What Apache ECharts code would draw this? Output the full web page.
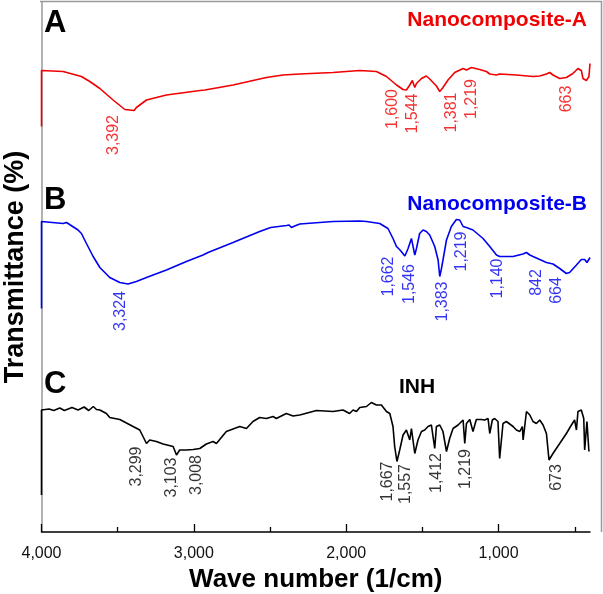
<!DOCTYPE html>
<html>
<head>
<meta charset="utf-8">
<script src="https://cdn.jsdelivr.net/npm/echarts@6/dist/echarts.min.js"></script>
<style>
  html, body { margin: 0; padding: 0; background: #fff; }
  #chart { width: 603px; height: 594px; }
</style>
</head>
<body>
<div id="chart"></div>
<script>
// FTIR spectra: [wave number, transmittance (arbitrary, stacked)]
const spectrumA = [
  [4000, 81.1], [4000, 92.3], [3858, 92.1], [3738, 91.1], [3683, 90.1], [3617, 88.7],
  [3530, 86.4], [3453, 84.5], [3392, 84.3], [3377, 84.9], [3311, 86.4], [3180, 87.4],
  [2960, 88.3], [2927, 88.4], [2743, 89.4], [2524, 90.9], [2415, 91.4], [2305, 91.6],
  [2087, 91.9], [1911, 92.3], [1802, 92.1], [1736, 91.1], [1670, 89.4], [1627, 88.5],
  [1605, 88.4], [1583, 89.4], [1566, 90.3], [1550, 88.9], [1539, 89.7], [1506, 90.7],
  [1474, 91.2], [1452, 90.6], [1408, 89.2], [1386, 88.1], [1365, 88.9], [1332, 90.4],
  [1288, 91.9], [1233, 92.7], [1211, 92.4], [1178, 92.9], [1124, 92.5], [1080, 92.1],
  [1058, 91.6], [1014, 91.4], [993, 91.6], [883, 91.4], [774, 91.1], [730, 91.2],
  [686, 91.6], [664, 91.9], [643, 91.4], [599, 90.7], [555, 90.9], [512, 91.7],
  [479, 92.7], [457, 92.3], [446, 90.7], [424, 90.3], [407, 91.1], [400, 93.7]
];
const spectrumB = [
  [4000, 44.7], [4000, 62.1], [3858, 61.7], [3836, 61.9], [3760, 60.4], [3738, 59.7],
  [3705, 57.7], [3661, 55.1], [3617, 52.9], [3552, 50.9], [3486, 49.9], [3432, 49.6],
  [3377, 50.1], [3311, 50.9], [3180, 52.4], [3049, 54.1], [2940, 55.4], [2907, 55.9],
  [2743, 57.9], [2568, 60.1], [2496, 60.9], [2392, 61.3], [2375, 61.4], [2360, 60.9],
  [2338, 61.2], [2305, 61.6], [2087, 62.1], [1911, 62.2], [1867, 62.1], [1780, 61.7],
  [1726, 60.7], [1693, 58.7], [1670, 57.1], [1647, 56.4], [1615, 55.2], [1594, 56.7],
  [1572, 58.7], [1562, 58.4], [1550, 55.4], [1539, 56.7], [1518, 59.7], [1496, 60.4],
  [1474, 60.1], [1452, 59.4], [1419, 57.1], [1397, 54.4], [1386, 51.1], [1375, 52.7],
  [1365, 54.4], [1342, 58.4], [1310, 61.1], [1277, 62.5], [1255, 62.4], [1233, 61.1],
  [1211, 60.9], [1168, 60.4], [1102, 58.7], [1058, 57.1], [1014, 55.4], [993, 55.1],
  [905, 55.1], [840, 55.6], [817, 55.9], [795, 55.4], [774, 55.1], [730, 54.5],
  [686, 53.9], [643, 53.6], [599, 52.7], [555, 51.7], [534, 51.9], [489, 53.4],
  [457, 54.5], [435, 54.5], [420, 53.9], [410, 54.3], [400, 54.9]
];
const spectrumC = [
  [4000, 7.4], [4000, 24.4], [3950, 24.6], [3920, 24.3], [3880, 24.8], [3850, 24.3],
  [3800, 24.9], [3760, 24.4], [3720, 25.0], [3690, 24.3], [3660, 25.1], [3639, 24.5],
  [3617, 24.4], [3574, 23.7], [3552, 22.9], [3486, 22.5], [3399, 21.1], [3355, 20.4],
  [3311, 17.7], [3290, 18.4], [3246, 18.1], [3202, 17.6], [3136, 17.1], [3114, 15.4],
  [3093, 16.4], [3049, 16.4], [3005, 16.5], [2961, 16.7], [2918, 17.6], [2874, 18.1],
  [2852, 17.7], [2787, 20.1], [2699, 21.1], [2655, 20.7], [2612, 22.1], [2568, 22.9],
  [2524, 22.7], [2480, 23.1], [2459, 22.7], [2393, 23.7], [2349, 23.2], [2305, 23.4],
  [2195, 24.3], [2087, 24.1], [2021, 24.4], [1978, 23.7], [1955, 24.4], [1933, 24.1],
  [1911, 24.9], [1867, 25.1], [1835, 25.9], [1802, 25.4], [1769, 25.4], [1736, 24.1],
  [1714, 23.7], [1693, 21.1], [1682, 17.1], [1667, 14.1], [1649, 16.4], [1627, 19.4],
  [1605, 20.4], [1583, 18.4], [1572, 20.7], [1550, 15.7], [1529, 18.4], [1506, 20.1],
  [1485, 20.4], [1463, 21.1], [1441, 21.4], [1419, 16.7], [1408, 21.1], [1386, 21.4],
  [1365, 20.1], [1342, 16.1], [1321, 18.7], [1299, 20.7], [1266, 21.4], [1233, 22.4],
  [1222, 17.7], [1211, 21.7], [1189, 22.5], [1168, 20.1], [1146, 22.5], [1113, 22.5],
  [1091, 22.4], [1069, 22.7], [1058, 19.7], [1041, 22.4], [1026, 22.7], [1004, 22.1],
  [993, 14.7], [971, 21.7], [949, 22.1], [905, 21.1], [883, 20.4], [861, 20.1],
  [844, 21.1], [839, 18.4], [817, 24.1], [795, 23.4], [774, 22.1], [752, 21.7],
  [730, 22.4], [708, 21.4], [686, 19.7], [669, 14.4], [643, 15.7], [599, 17.7],
  [555, 19.7], [522, 21.4], [501, 22.4], [489, 20.4], [479, 24.1], [457, 24.4],
  [441, 22.7], [435, 16.4], [420, 22.1], [407, 16.1]
];

// peak labels: [label anchor wave number, label anchor level, peak value]
const peaksA = [
  [3530, 79.4, 3392], [1697, 84.6, 1600], [1562, 83.7, 1544],
  [1310, 83.9, 1381], [1178, 86.6, 1219], [555, 86.6, 663]
];
const peaksB = [
  [3482, 44.2, 3324], [1719, 51.1, 1662], [1583, 49.6, 1546], [1369, 46.1, 1383],
  [1244, 56.1, 1219], [1008, 50.7, 1140], [748, 49.9, 842], [621, 48.3, 664]
];
const peaksC = [
  [3377, 13.1, 3299], [3147, 10.9, 3103], [2983, 11.4, 3008], [1726, 10.1, 1667],
  [1609, 9.6, 1557], [1408, 11.8, 1412], [1216, 12.6, 1219], [617, 10.9, 673]
];

const majorTicks = [4000, 3000, 2000, 1000];
const minorTicks = [3500, 2500, 1500, 500];

const FONT = '"Liberation Sans", Arial, sans-serif';
const RED = '#f00000';
const BLUE = '#0000f0';
const BLACK = '#000000';

function lineSeries(data, color) {
  return {
    type: 'line', data: data, showSymbol: false, symbol: 'none',
    lineStyle: { color: color, width: 1.6 }, animation: false, z: 3
  };
}
function peakSeries(peaks, color) {
  return {
    type: 'scatter', symbolSize: 0, animation: false, silent: true, z: 4,
    data: peaks.map(p => ({ value: [p[0], p[1]], peak: p[2] })),
    label: {
      show: true, position: 'inside', rotate: 90, color: color,
      fontFamily: FONT, fontSize: 16, align: 'center', verticalAlign: 'middle',
      formatter: (p) => p.data.peak.toLocaleString('en-US')
    }
  };
}

const myChart = echarts.init(document.getElementById('chart'));
const option = {
  backgroundColor: '#fff',
  grid: { left: 41.5, right: 13, top: 2, bottom: 62, outerBoundsMode: 'none', containLabel: false },
  xAxis: [
    {
      type: 'value', min: 400, max: 4000, inverse: true,
      name: 'Wave number (1/cm)', nameLocation: 'middle', nameGap: 35,
      nameTextStyle: { fontFamily: FONT, fontSize: 26, fontWeight: 'bold', color: '#000' },
      axisLine: { show: true, lineStyle: { color: '#000', width: 1.5 } },
      axisTick: { show: true, inside: true, length: 8, customValues: majorTicks, lineStyle: { color: '#000', width: 1.3 } },
      axisLabel: {
        customValues: majorTicks, margin: 14, color: '#111', fontFamily: FONT, fontSize: 16,
        formatter: (v) => v.toLocaleString('en-US')
      },
      splitLine: { show: false }
    },
    {
      type: 'value', min: 400, max: 4000, inverse: true, position: 'bottom',
      axisLine: { show: false },
      axisTick: { show: true, inside: true, length: 5, customValues: minorTicks, lineStyle: { color: '#000', width: 1.3 } },
      axisLabel: { show: false },
      splitLine: { show: false }
    }
  ],
  yAxis: {
    type: 'value', min: 0, max: 106,
    name: 'Transmittance (%)', nameLocation: 'middle', nameGap: 12,
    nameTextStyle: { fontFamily: FONT, fontSize: 27, fontWeight: 'bold', color: '#000' },
    axisLine: { show: true, lineStyle: { color: '#999', width: 1.5 } },
    axisTick: { show: false }, axisLabel: { show: false }, splitLine: { show: false }
  },
  graphic: [
    { type: 'polyline', shape: { points: [[40, 1.5], [601.5, 1.5], [601.5, 532]] }, style: { stroke: '#999', lineWidth: 1.5, fill: null } },
    { type: 'text', left: 44, top: 8, style: { text: 'A', font: 'bold 31px ' + FONT, fill: '#000' } },
    { type: 'text', left: 44, top: 185, style: { text: 'B', font: 'bold 31px ' + FONT, fill: '#000' } },
    { type: 'text', left: 44, top: 369, style: { text: 'C', font: 'bold 31px ' + FONT, fill: '#000' } },
    { type: 'text', right: 16, top: 10, style: { text: 'Nanocomposite-A', font: 'bold 21px ' + FONT, fill: RED } },
    { type: 'text', right: 16, top: 194, style: { text: 'Nanocomposite-B', font: 'bold 21px ' + FONT, fill: BLUE } },
    { type: 'text', left: 399, top: 377, style: { text: 'INH', font: 'bold 21px ' + FONT, fill: BLACK } }
  ],
  series: [
    lineSeries(spectrumA, RED),
    lineSeries(spectrumB, BLUE),
    lineSeries(spectrumC, BLACK),
    peakSeries(peaksA, RED),
    peakSeries(peaksB, BLUE),
    peakSeries(peaksC, BLACK)
  ]
};
myChart.setOption(option, true);
</script>
</body>
</html>
